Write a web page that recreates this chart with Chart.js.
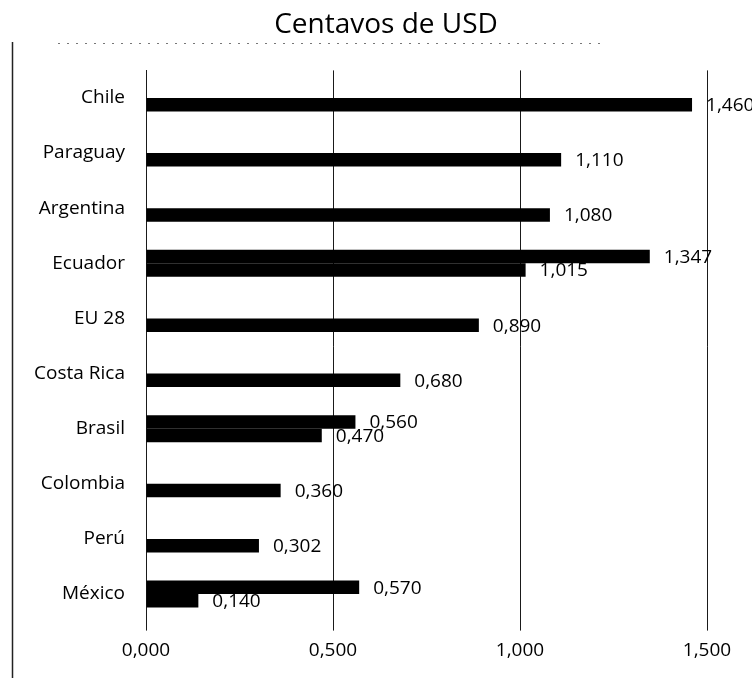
<!DOCTYPE html>
<html>
<head>
<meta charset="utf-8">
<script src="https://cdn.jsdelivr.net/npm/chart.js@4/dist/chart.umd.min.js"></script>
<style>
  html, body { margin: 0; padding: 0; background: #fff; }
  #wrap { width: 752px; height: 678px; position: relative; }
</style>
</head>
<body>
<div id="wrap"><canvas id="c"></canvas></div>
<script>
const categories = ['Chile', 'Paraguay', 'Argentina', 'Ecuador', 'EU 28', 'Costa Rica', 'Brasil', 'Colombia', 'Perú', 'México'];
const seriesTop = [null, null, null, 1.347, null, null, 0.560, null, null, 0.570];
const seriesBottom = [1.460, 1.110, 1.080, 1.015, 0.890, 0.680, 0.470, 0.360, 0.302, 0.140];
const xTicks = [0, 0.5, 1.0, 1.5];
const titleText = 'Centavos de USD';

const fmt = v => v.toFixed(3).replace('.', ',');
const FONT = "'Open Sans', 'Noto Sans', sans-serif";

const frame = {
  id: 'frame',
  beforeDraw(chart) {
    const ctx = chart.ctx;
    ctx.save();
    ctx.strokeStyle = '#222';
    ctx.lineWidth = 1.5;
    ctx.beginPath();
    ctx.moveTo(12.5, 42);
    ctx.lineTo(12.5, 678);
    ctx.stroke();
    ctx.strokeStyle = '#777';
    ctx.lineWidth = 1;
    ctx.setLineDash([2, 7]);
    ctx.beginPath();
    ctx.moveTo(58, 43.5);
    ctx.lineTo(600, 43.5);
    ctx.stroke();
    ctx.restore();
  }
};

const valueLabels = {
  id: 'valueLabels',
  afterDatasetsDraw(chart) {
    const ctx = chart.ctx;
    ctx.save();
    ctx.font = '19px ' + FONT;
    ctx.fillStyle = '#000';
    ctx.textAlign = 'left';
    ctx.textBaseline = 'middle';
    chart.data.datasets.forEach((ds, di) => {
      const meta = chart.getDatasetMeta(di);
      meta.data.forEach((bar, i) => {
        const v = ds.data[i];
        if (v === null || v === undefined) return;
        ctx.fillText(fmt(v), bar.x + 14, bar.y + 1);
      });
    });
    ctx.restore();
  }
};

Chart.defaults.color = '#000';
Chart.defaults.font.family = FONT;

new Chart(document.getElementById('c'), {
  type: 'bar',
  data: {
    labels: categories,
    datasets: [
      { label: 'A', data: seriesTop, backgroundColor: '#000', borderWidth: 0 },
      { label: 'B', data: seriesBottom, backgroundColor: '#000', borderWidth: 0 }
    ]
  },
  options: {
    indexAxis: 'y',
    responsive: true,
    maintainAspectRatio: false,
    animation: false,
    categoryPercentage: 0.49,
    barPercentage: 1.0,
    layout: { padding: { left: 20, right: 0, top: 0, bottom: 0 } },
    plugins: {
      legend: { display: false },
      tooltip: { enabled: false },
      title: {
        display: true,
        text: titleText,
        color: '#000',
        font: { size: 28, weight: 'normal', family: FONT, lineHeight: 1.2 },
        padding: { top: 8, bottom: 28.8 }
      }
    },
    scales: {
      x: {
        type: 'linear',
        min: 0,
        max: 1.5,
        afterBuildTicks(scale) { scale.ticks = xTicks.map(v => ({ value: v })); },
        afterFit(scale) { scale.height = 56.4; },
        grid: { display: true, color: '#1a1a1a', lineWidth: 1, drawTicks: true, tickLength: 9, tickColor: '#1a1a1a' },
        border: { display: false },
        ticks: { padding: 9, font: { size: 19 }, color: '#000', callback: v => fmt(v) }
      },
      y: {
        afterFit(scale) { scale.width = 126; },
        grid: { display: false, drawTicks: false },
        border: { display: true, color: '#1a1a1a', width: 1 },
        ticks: { padding: 21, font: { size: 19 }, color: '#000' }
      },
      yRight: {
        type: 'category',
        position: 'right',
        afterFit(scale) { scale.width = 45; },
        grid: { display: false, drawTicks: false },
        border: { display: false },
        ticks: { display: false }
      }
    }
  },
  plugins: [frame, valueLabels]
});
</script>
</body>
</html>
